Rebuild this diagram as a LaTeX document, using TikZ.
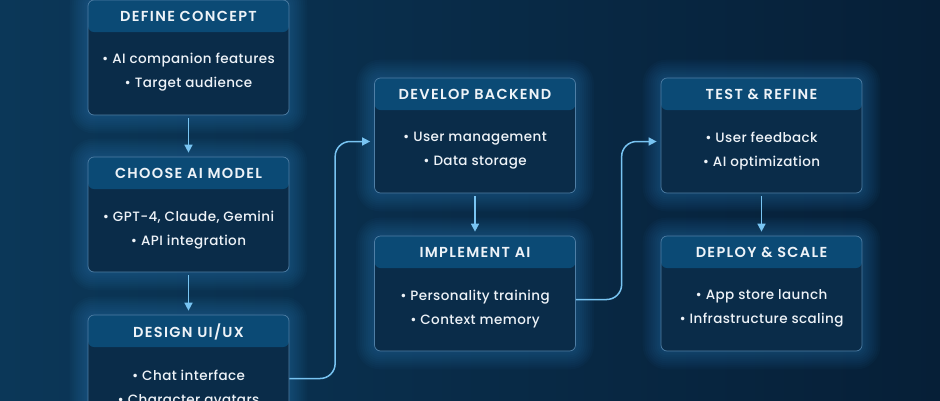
\documentclass[tikz,border=0pt]{standalone}
\usepackage{fontspec}
\IfFontExistsTF{Poppins Medium}
	{\setmainfont{Poppins Medium}[BoldFont={Poppins SemiBold}]}
	{\setmainfont{Poppins}}
\usetikzlibrary{arrows.meta,backgrounds,calc}

\definecolor{bgleft}{HTML}{0B3758}
\definecolor{bgright}{HTML}{061F37}
\definecolor{cardbody}{HTML}{0A2C49}
\definecolor{cardhead}{HTML}{0B4A75}
\definecolor{cardedge}{HTML}{4F7FA6}
\definecolor{glowblue}{HTML}{2E8ACB}
\definecolor{flowblue}{HTML}{78C4F2}
\definecolor{inktext}{HTML}{EEF3F8}

\begin{document}
\begin{tikzpicture}[x=1pt,y=-1pt,>={Triangle[length=8pt,width=8pt]},
	stage/.style={rectangle, rounded corners=6pt, draw=cardedge, line width=0.7pt, fill=cardbody,
		minimum width=201pt, minimum height=115pt,
		path picture={\fill[cardhead] (path picture bounding box.north west) rectangle ([yshift=-32pt]path picture bounding box.north east);}},
	title/.style={font=\fontsize{14.5}{16}\selectfont\bfseries\addfontfeatures{LetterSpace=9}, text=inktext},
	items/.style={font=\fontsize{13.5}{24}\selectfont\addfontfeatures{LetterSpace=3}, text=inktext, align=center},
	flow/.style={->, draw=flowblue, line width=1.5pt, rounded corners=15pt, shorten >=4pt}]
	\useasboundingbox (0,0) rectangle (940,400);

	% cards
	\node (concept) [stage] at (188.5,57.5) {};
	\node (model) [stage] at (188.5,214.5) {};
	\node (design) [stage] at (188.5,372.5) {};
	\node (backend) [stage] at (475,135.5) {};
	\node (implement) [stage] at (475,293.5) {};
	\node (refine) [stage] at (761.5,135.5) {};
	\node (deploy) [stage] at (761.5,293.5) {};

	% headers
	\node (conceptT) [title] at ([yshift=-17pt]concept.north) {DEFINE CONCEPT};
	\node (modelT) [title] at ([yshift=-17pt]model.north) {CHOOSE AI MODEL};
	\node (designT) [title] at ([yshift=-17pt]design.north) {DESIGN UI/UX};
	\node (backendT) [title] at ([yshift=-17pt]backend.north) {DEVELOP BACKEND};
	\node (implementT) [title] at ([yshift=-17pt]implement.north) {IMPLEMENT AI};
	\node (refineT) [title] at ([yshift=-17pt]refine.north) {TEST \& REFINE};
	\node (deployT) [title] at ([yshift=-17pt]deploy.north) {DEPLOY \& SCALE};

	% bullet lines
	\node (conceptL) [items] at ([yshift=-72pt]concept.north) {\textbullet\ AI companion features\\\textbullet\ Target audience};
	\node (modelL) [items] at ([yshift=-73pt]model.north) {\textbullet\ GPT-4, Claude, Gemini\\\textbullet\ API integration};
	\node (designL) [items] at ([yshift=-73pt]design.north) {\textbullet\ Chat interface\\\textbullet\ Character avatars};
	\node (backendL) [items] at ([yshift=-73pt]backend.north) {\textbullet\ User management\\\textbullet\ Data storage};
	\node (implementL) [items] at ([yshift=-73pt]implement.north) {\textbullet\ Personality training\\\textbullet\ Context memory};
	\node (refineL) [items] at ([yshift=-73pt]refine.north) {\textbullet\ User feedback\\\textbullet\ AI optimization};
	\node (deployL) [items] at ([yshift=-73pt]deploy.north) {\textbullet\ App store launch\\\textbullet\ Infrastructure scaling};

	% connectors
	\draw[flow, shorten <=3pt] (concept) -- (model);
	\draw[flow, shorten <=3pt] (model) -- (design);
	\draw[flow, shorten <=3pt] (backend) -- (implement);
	\draw[flow, shorten <=3pt] (refine) -- (deploy);
	\draw[flow] ([yshift=-6pt]design.east) -| ([xshift=-39pt,yshift=-6pt]backend.west) -- ([yshift=-6pt]backend.west);
	\draw[flow] ([yshift=-6pt]implement.east) -| ([xshift=-39pt,yshift=-6pt]refine.west) -- ([yshift=-6pt]refine.west);

	% backdrop and glow
	\begin{scope}[on background layer]
		\shade[left color=bgleft, right color=bgright] (0,0) rectangle (940,400);
		\foreach \n in {concept,model,design,backend,implement,refine,deploy}
			\foreach \g in {2,4,...,18}
				\fill[glowblue, opacity=0.04, rounded corners=6pt+\g pt]
					([shift={(-\g pt,-\g pt)}]\n.south west) rectangle ([shift={(\g pt,\g pt)}]\n.north east);
	\end{scope}
\end{tikzpicture}
\end{document}
